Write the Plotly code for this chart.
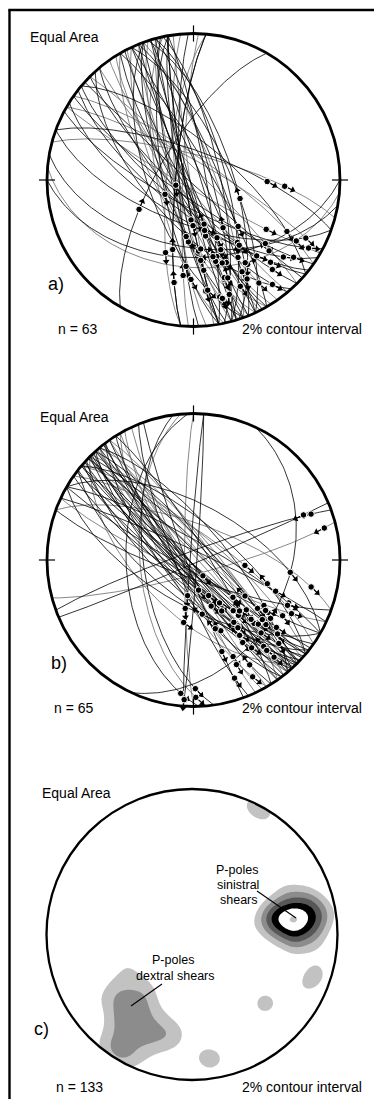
import numpy as np
import plotly.graph_objects as go

# ------------------------------------------------------------------
# Panel a) fault-slip data: plane strike (right-hand rule), dip,
# rake of slip lineation (deg in plane from strike) and arrow sense
# (+1 = arrow toward shallower plunge, -1 = toward steeper plunge)
# ------------------------------------------------------------------
a_strike = [160, 165, 155, 170, 340, 345, 150, 162, 158, 335, 168, 345, 152, 172, 338,
            160, 148, 350, 165, 155, 342, 185, 158, 330, 163, 150, 348, 167, 140, 335,
            170, 153, 343, 160, 182,
            125, 130, 120, 310, 135, 305, 128, 140, 315, 122, 132, 300, 138, 118, 145,
            210, 170, 175, 185, 170, 185, 178,
            290, 285,
            110, 90, 95, 100]
a_dip = [85, 80, 88, 82, 78, 72, 80, 75, 86, 85, 70, 80, 84, 88, 76,
         65, 78, 83, 86, 72, 68, 80, 80, 80, 88, 70, 75, 78, 85, 70,
         85, 82, 86, 74, 84,
         80, 75, 85, 70, 80, 78, 72, 76, 85, 68, 88, 80, 65, 75, 82,
         70, 73, 80, 80, 85, 75, 82,
         74, 76,
         65, 46, 40, 52]
a_rake = [30, 45, 55, 25, 140, 130, 40, 20, 65, 150, 35, 120, 48, 38, 155,
          28, 60, 135, 18, 52, 145, 30, 70, 125, 42, 33, 160, 57, 45, 110,
          50, 22, 150, 62, 35,
          15, 25, 40, 150, 20, 160, 35, 12, 145, 22, 30, 165, 45, 10, 18,
          61, 85, 88, 50, 65, 48, 41,
          129, 141,
          75, 80, 60, 80]
a_sense = [1, -1, 1, 1, -1, 1, -1, 1, -1, 1, 1, -1, 1, -1, 1,
           1, -1, 1, 1, -1, 1, -1, 1, 1, -1, 1, 1, -1, 1, -1,
           1, 1, -1, 1, -1,
           1, 1, 1, 1, 1, 1, 1, 1, 1, 1, -1, 1, 1, 1, 1,
           -1, 1, 1, -1, 1, 1, 1,
           1, 1,
           1, -1, 1, 1]

# ------------------------------------------------------------------
# Panel b) fault-slip data
# ------------------------------------------------------------------
b_strike = [135, 140, 315, 130, 320, 138, 142, 312, 128, 145, 318, 133, 136, 325, 140,
            130, 310, 148, 135, 322, 127, 143, 316, 138, 132, 150, 320, 125, 140, 314,
            137, 145, 328, 131, 139, 318, 134, 152, 120, 300, 115, 295, 310, 155, 158,
            160, 150, 128, 143, 305,
            4, 184, 175, 178, 172, 180, 25,
            67, 75, 250,
            110, 290, 120, 300, 135]
b_dip = [85, 80, 82, 88, 78, 75, 86, 85, 80, 84, 88, 72, 82, 80, 88,
         84, 76, 80, 78, 85, 86, 74, 80, 88, 82, 85, 72, 78, 83, 86,
         80, 88, 82, 76, 85, 80, 88, 80, 84, 80, 82, 85, 70, 84, 80,
         86, 75, 68, 82, 75,
         88, 88, 60, 52, 62, 85, 35,
         88, 82, 85,
         80, 70, 65, 60, 60]
b_rake = [50, 40, 135, 60, 145, 30, 45, 125, 55, 35, 140, 42, 70, 130, 25,
          38, 150, 48, 65, 120, 28, 52, 155, 80, 33, 20, 135, 45, 58, 142,
          22, 62, 128, 50, 15, 160, 43, 30, 40, 150, 25, 140, 130, 24, 16,
          35, 12, 68, 75, 115,
          175, 70, 8, 12, 15, 63, 100,
          20, 9, 165,
          30, 160, 50, 140, 70]
b_sense = [1, -1, 1, 1, -1, 1, 1, -1, 1, 1, -1, 1, 1, 1, -1,
           1, 1, -1, 1, 1, 1, -1, 1, 1, 1, -1, 1, 1, -1, 1,
           1, 1, -1, 1, 1, 1, -1, 1, 1, 1, 1, 1, -1, 1, 1,
           1, 1, -1, 1, 1,
           1, 1, 1, 1, 1, 1, -1,
           -1, -1, -1,
           1, 1, -1, 1, 1]

# ------------------------------------------------------------------
# Panel c) P-poles (trend, plunge, number of poles)
# ------------------------------------------------------------------
# sinistral-shear P-poles (NE maximum)
ne_trend = [81,
            78, 84, 78, 84,
            81, 74, 73, 77, 85, 89, 88,
            77, 71, 69, 71, 77, 85, 91, 93, 91, 85,
            81, 81, 64, 98, 95]
ne_plunge = [29,
             24, 24, 34, 34,
             15, 20, 31, 41, 41, 31, 20,
             13, 19, 29, 39, 45, 45, 39, 29, 19, 13,
             3, 56, 29, 29, 14]
ne_count = [5,
            3, 3, 3, 3,
            3, 2, 2, 3, 2, 3, 2,
            3, 2, 2, 2, 3, 2, 2, 3, 2, 3,
            1, 1, 1, 1, 1]
# dextral-shear P-poles (SW maximum)
sw_trend = [236, 233, 229, 224, 218,
            232, 228, 224, 219, 214,
            228, 224, 220, 215, 210,
            224, 221, 217, 212, 207,
            221, 218, 214, 209, 205,
            218, 215, 211, 207, 203,
            216, 212, 209, 205, 201,
            200, 198, 197, 194, 193, 192, 188, 188,
            243, 240, 232, 248, 235, 220, 212, 206, 201, 200, 209, 216]
sw_plunge = [34, 39, 43, 48, 51,
             31, 35, 39, 43, 47,
             27, 31, 35, 39, 42,
             22, 26, 30, 34, 37,
             18, 22, 25, 29, 31,
             12, 16, 20, 23, 26,
             7, 11, 14, 17, 20,
             34, 28, 22, 35, 30, 23, 34, 28,
             41, 49, 54, 50, 24, 4, 1, 5, 11, 41, 3, 2]
sw_count = [1, 1, 1, 1, 1,
            1, 1, 1, 1, 1,
            1, 1, 2, 1, 1,
            1, 1, 1, 1, 1,
            1, 1, 1, 1, 1,
            1, 1, 1, 1, 1,
            1, 1, 1, 1, 1,
            1, 1, 1, 1, 1, 1, 1, 1,
            1, 1, 1, 1, 1, 1, 2, 2, 1, 1, 1, 1]
# minor groups and scattered poles
mi_trend = [22, 26, 30, 34, 104, 108, 112, 118, 134, 131, 172, 176, 168,
            0, 40, 120, 200, 290, 350, 150, 15]
mi_plunge = [2, 2, 3, 4, 10, 12, 14, 17, 32, 30, 15, 17, 13,
             85, 72, 72, 75, 72, 60, 55, 45]
mi_count = [1, 2, 2, 1, 1, 2, 2, 1, 3, 1, 3, 1, 1,
            1, 1, 1, 1, 1, 1, 1, 1]

panel_labels = ["a)", "b)", "c)"]
panel_n = ["n = 63", "n = 65", "n = 133"]
net_title = "Equal Area"
contour_note = "2% contour interval"
contour_levels = [2, 4, 6, 8, 10, 12]

# ------------------------------------------------------------------
# Lower-hemisphere equal-area (Schmidt) projection helpers
# ------------------------------------------------------------------
def plane_line(strike, dip, rake):
    s = np.radians(np.asarray(strike, float))
    d = np.radians(np.asarray(dip, float))
    r = np.radians(np.asarray(rake, float))
    dd = s + np.pi / 2
    e = np.cos(r) * np.sin(s) + np.sin(r) * np.cos(d) * np.sin(dd)
    n = np.cos(r) * np.cos(s) + np.sin(r) * np.cos(d) * np.cos(dd)
    z = np.sin(r) * np.sin(d)
    return e, n, z


def project(e, n, z):
    pl = np.arcsin(np.clip(z, -1, 1))
    tr = np.arctan2(e, n)
    rr = np.sqrt(2) * np.sin((np.pi / 2 - pl) / 2)
    return rr * np.sin(tr), rr * np.cos(tr)


def tp_xy(trend, plunge):
    t = np.radians(np.asarray(trend, float))
    p = np.radians(np.asarray(plunge, float))
    rr = np.sqrt(2) * np.sin((np.pi / 2 - p) / 2)
    return rr * np.sin(t), rr * np.cos(t)


W, H = 374, 1099
FONT = "Liberation Sans, Arial, Helvetica, sans-serif"
fig = go.Figure()

# panel geometry in pixels: (centre x, centre y, radius, top, bottom)
panels = [(193.5, 180.0, 146.5, 0, 366),
          (193.5, 560.0, 146.5, 366, 733),
          (192.0, 934.5, 145.5, 733, 1099)]

layout_axes = {}
for i, (cx, cy, k, top, bot) in enumerate(panels):
    sfx = "" if i == 0 else str(i + 1)
    layout_axes["xaxis" + sfx] = dict(domain=[0, 1], range=[-cx / k, (W - cx) / k],
                                      visible=False, fixedrange=True,
                                      anchor="y" + sfx)
    layout_axes["yaxis" + sfx] = dict(domain=[1 - bot / H, 1 - top / H],
                                      range=[(cy - bot) / k, (cy - top) / k],
                                      visible=False, fixedrange=True,
                                      anchor="x" + sfx)


def add_fault_panel(strike, dip, rake, sense, xa, ya):
    rk = np.linspace(0, 180, 121)
    xs_k, ys_k, xs_g, ys_g = [], [], [], []
    for j, (s, d) in enumerate(zip(strike, dip)):
        x, y = project(*plane_line(s, d, rk))
        if j % 3 == 1:
            xs_g += list(x) + [None]
            ys_g += list(y) + [None]
        else:
            xs_k += list(x) + [None]
            ys_k += list(y) + [None]
    fig.add_trace(go.Scatter(x=xs_g, y=ys_g, mode="lines", xaxis=xa, yaxis=ya,
                             line=dict(color="#6a6a6a", width=0.8), hoverinfo="skip"))
    fig.add_trace(go.Scatter(x=xs_k, y=ys_k, mode="lines", xaxis=xa, yaxis=ya,
                             line=dict(color="#000000", width=0.8), hoverinfo="skip"))
    dx0, dy0, sx, sy, tx, ty, ang = [], [], [], [], [], [], []
    L = 0.06
    for s, d, r, sg in zip(strike, dip, rake, sense):
        x0, y0 = project(*plane_line(s, d, r))
        step = sg * (1 if r >= 90 else -1)
        x1, y1 = project(*plane_line(s, d, r + step * 1.0))
        ux, uy = x1 - x0, y1 - y0
        nn = np.hypot(ux, uy)
        ux, uy = ux / nn, uy / nn
        xt, yt = x0 + L * ux, y0 + L * uy
        dx0.append(float(x0)); dy0.append(float(y0))
        sx += [float(x0), float(xt), None]
        sy += [float(y0), float(yt), None]
        tx.append(float(xt)); ty.append(float(yt))
        ang.append(float(np.degrees(np.arctan2(ux, uy))))
    fig.add_trace(go.Scatter(x=sx, y=sy, mode="lines", xaxis=xa, yaxis=ya,
                             line=dict(color="black", width=1.1), hoverinfo="skip",
                             cliponaxis=False))
    fig.add_trace(go.Scatter(x=tx, y=ty, mode="markers", xaxis=xa, yaxis=ya,
                             marker=dict(symbol="triangle-up", size=6, color="black",
                                         angle=ang, line=dict(width=0)),
                             hoverinfo="skip", cliponaxis=False))
    fig.add_trace(go.Scatter(x=dx0, y=dy0, mode="markers", xaxis=xa, yaxis=ya,
                             marker=dict(symbol="circle", size=6.5, color="black",
                                         line=dict(color="white", width=1)),
                             hoverinfo="skip", cliponaxis=False))


add_fault_panel(a_strike, a_dip, a_rake, a_sense, "x", "y")
add_fault_panel(b_strike, b_dip, b_rake, b_sense, "x2", "y2")

# ---- panel c: density of P-poles (Gaussian-smoothed counting, % per 1% area)
c_trend = ne_trend + sw_trend + mi_trend
c_plunge = ne_plunge + sw_plunge + mi_plunge
c_count = ne_count + sw_count + mi_count
gx = np.linspace(-1.06, 1.06, 213)
GX, GY = np.meshgrid(gx, gx)
px_, py_ = tp_xy(c_trend, c_plunge)
wts = np.asarray(c_count, float)
Ntot = wts.sum()
sig, rc = 0.07, 0.1
dens = np.zeros_like(GX)
for xi, yi, wi in zip(px_, py_, wts):
    dens += wi * np.exp(-((GX - xi) ** 2 + (GY - yi) ** 2) / (2 * sig ** 2))
dens *= 100.0 / Ntot * rc ** 2 / (2 * sig ** 2)

lv = contour_levels
fig.add_trace(go.Contour(x=gx, y=gx, z=dens, xaxis="x3", yaxis="y3",
                         autocontour=False,
                         contours=dict(start=lv[0], end=lv[-1], size=lv[1] - lv[0],
                                       coloring="fill", showlines=False),
                         colorscale=[[0, "#ffffff"], [1 / 6, "#c2c2c2"], [2 / 6, "#8c8c8c"],
                                     [3 / 6, "#575757"], [4 / 6, "#000000"],
                                     [5 / 6, "#ffffff"], [1, "#c2c2c2"]],
                         line=dict(width=0), showscale=False, hoverinfo="skip"))
# white mask outside the primitive circle
th = np.linspace(np.radians(225), np.radians(225 + 360), 181)
mx = [-1.6, -1.6, 1.6, 1.6, -1.6] + list(np.cos(th)) + [-1.6]
my = [-1.6, 1.6, 1.6, -1.6, -1.6] + list(np.sin(th)) + [-1.6]
fig.add_trace(go.Scatter(x=mx, y=my, mode="lines", fill="toself", fillcolor="white",
                         line=dict(width=0, color="white"), xaxis="x3", yaxis="y3",
                         hoverinfo="skip"))

# ---- shapes: primitive circles, cardinal ticks, frame, leader lines
shapes = []
for i, xa, ya, lw in [(0, "x", "y", 2.8), (1, "x2", "y2", 2.8), (2, "x3", "y3", 2.3)]:
    shapes.append(dict(type="circle", xref=xa, yref=ya, x0=-1, y0=-1, x1=1, y1=1,
                       line=dict(color="black", width=lw), layer="above"))
    if i < 2:
        t = 0.055
        for (x0, y0, x1, y1) in [(0, 1 - t, 0, 1 + t), (0, -1 - t, 0, -1 + t),
                                 (1 - t, 0, 1 + t, 0), (-1 - t, 0, -1 + t, 0)]:
            shapes.append(dict(type="line", xref=xa, yref=ya, x0=x0, y0=y0, x1=x1, y1=y1,
                               line=dict(color="black", width=1.2), layer="above"))


def P(px, py):
    return px / W, 1 - py / H


fx0, fy0 = P(9.5, 10)
shapes.append(dict(type="line", xref="paper", yref="paper", x0=fx0, y0=fy0, x1=fx0, y1=0,
                   line=dict(color="black", width=2.4)))
shapes.append(dict(type="line", xref="paper", yref="paper", x0=P(8.3, 0)[0], y0=fy0,
                   x1=1, y1=fy0, line=dict(color="black", width=2.4)))
for (a0, a1) in [((257, 891), (296, 918)), ((162, 984), (131, 1006))]:
    u0, v0 = P(*a0)
    u1, v1 = P(*a1)
    shapes.append(dict(type="line", xref="paper", yref="paper", x0=u0, y0=v0, x1=u1, y1=v1,
                       line=dict(color="black", width=1.1), layer="above"))

# ---- text
ann = []


def txt(s, px, py, size=14, xanchor="left"):
    u, v = P(px, py)
    ann.append(dict(text=s, x=u, y=v, xref="paper", yref="paper", showarrow=False,
                    xanchor=xanchor, yanchor="middle",
                    font=dict(family=FONT, size=size, color="black")))


txt(net_title, 28, 37)
txt(net_title, 38, 417)
txt(net_title, 40, 793)
txt(panel_labels[0], 46, 284, size=18)
txt(panel_labels[1], 49, 663, size=18)
txt(panel_labels[2], 32, 1029, size=18)
txt(panel_n[0], 56, 329)
txt(panel_n[1], 52, 708)
txt(panel_n[2], 54, 1087)
txt(contour_note, 364, 329, xanchor="right")
txt(contour_note, 364, 708, xanchor="right")
txt(contour_note, 364, 1087, xanchor="right")
txt("P-poles", 237, 870, size=12.5, xanchor="center")
txt("sinistral", 238, 885, size=12.5, xanchor="center")
txt("shears", 239, 900, size=12.5, xanchor="center")
txt("P-poles", 173, 960, size=12.5, xanchor="center")
txt("dextral shears", 175, 976, size=12.5, xanchor="center")

fig.update_layout(width=W, height=H, margin=dict(l=0, r=0, t=0, b=0),
                  paper_bgcolor="white", plot_bgcolor="white", showlegend=False,
                  shapes=shapes, annotations=ann, **layout_axes)
fig.write_html("out.html")
